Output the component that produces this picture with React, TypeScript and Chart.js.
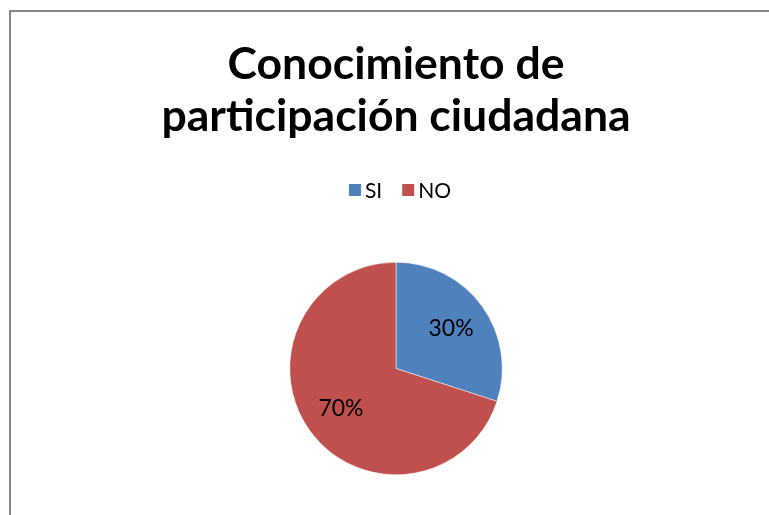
import React, { useEffect, useRef } from "react";
import { Chart, registerables } from "chart.js";

Chart.register(...registerables);

const categories = ["SI", "NO"];
const values = [30, 70];
const colors = ["#4F81BD", "#C0504D"];
const titleLines = ["Conocimiento de", "participación ciudadana"];

const FONT = "Lato, 'Open Sans', sans-serif";

const labelPlugin = {
  id: "pieLabels",
  afterDatasetsDraw(chart: any) {
    const ctx = chart.ctx;
    const meta = chart.getDatasetMeta(0);
    const total = values.reduce((a, b) => a + b, 0);
    ctx.save();
    ctx.font = `23px ${FONT}`;
    ctx.fillStyle = "#000";
    ctx.textAlign = "center";
    ctx.textBaseline = "middle";
    meta.data.forEach((arc: any, i: number) => {
      const p = arc.getProps(["x", "y", "startAngle", "endAngle", "outerRadius"], true);
      const mid = (p.startAngle + p.endAngle) / 2;
      const r = p.outerRadius * 0.64;
      const pct = Math.round((values[i] / total) * 100) + "%";
      ctx.fillText(pct, p.x + Math.cos(mid) * r, p.y + Math.sin(mid) * r);
    });
    ctx.restore();
  },
};

// Legend drawn manually for exact box/text spacing
const legendPlugin = {
  id: "customLegend",
  afterDraw(chart: any) {
    const ctx = chart.ctx;
    const box = 12;
    const gap = 4;
    const itemGap = 20;
    const cy = 190;
    ctx.save();
    ctx.font = `21px ${FONT}`;
    ctx.textBaseline = "middle";
    ctx.textAlign = "left";
    const widths = categories.map((c) => box + gap + ctx.measureText(c).width);
    const total = widths.reduce((a, b) => a + b, 0) + itemGap * (categories.length - 1);
    let x = 400 - total / 2;
    categories.forEach((c, i) => {
      ctx.fillStyle = colors[i];
      ctx.fillRect(x, cy - box / 2, box, box);
      ctx.fillStyle = "#000";
      ctx.fillText(c, x + box + gap, cy + 1);
      x += widths[i] + itemGap;
    });
    ctx.restore();
  },
};

export default function App() {
  const ref = useRef<HTMLCanvasElement | null>(null);
  useEffect(() => {
    if (!ref.current) return;
    const chart = new Chart(ref.current, {
      type: "pie",
      data: {
        labels: categories,
        datasets: [
          {
            data: values,
            backgroundColor: colors,
            borderColor: "#ffffff",
            borderWidth: 0.5,
          },
        ],
      },
      options: {
        animation: false,
        responsive: false,
        maintainAspectRatio: false,
        layout: { padding: { left: 23, right: 0, top: 0, bottom: 40 } },
        plugins: {
          tooltip: { enabled: false },
          title: {
            display: true,
            text: titleLines,
            color: "#000",
            font: { family: FONT, size: 44.5, weight: "bold", lineHeight: 1.18 },
            padding: { top: 38, bottom: 119 },
          },
          legend: { display: false },
        },
      },
      plugins: [labelPlugin, legendPlugin],
    });
    return () => chart.destroy();
  }, []);

  return (
    <div style={{ position: "absolute", left: 0, top: 0, width: 769, height: 515, overflow: "hidden", background: "#fff" }}>
      <div
        style={{
          position: "absolute",
          left: 9,
          top: 10,
          width: 900,
          height: 700,
          borderLeft: "2px solid #868686",
          borderTop: "2px solid #868686",
        }}
      />
      <canvas ref={ref} width={769} height={515} style={{ position: "absolute", left: 0, top: 0 }} />
    </div>
  );
}
